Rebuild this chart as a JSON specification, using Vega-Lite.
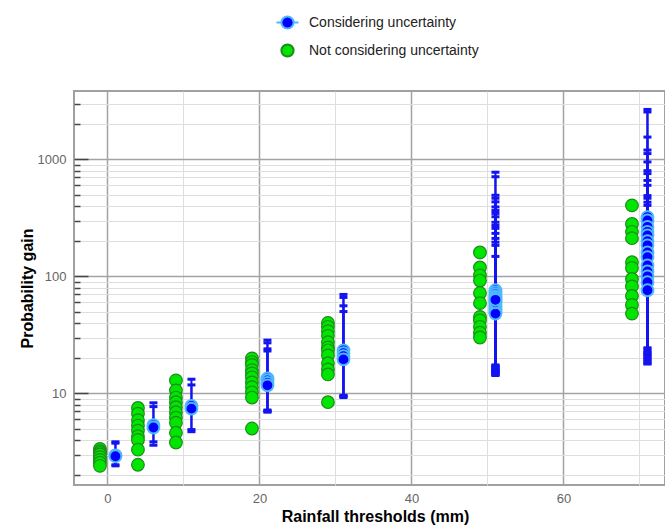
{
  "$schema": "https://vega.github.io/schema/vega-lite/v6.json",
  "width": 591,
  "height": 394,
  "autosize": {"type": "none"},
  "padding": {"left": 74, "top": 91, "right": 0, "bottom": 42},
  "config": {
    "font": "Liberation Sans",
    "view": {"stroke": "#a0a0a0", "strokeWidth": 2}
  },
  "datasets": {
    "notConsidering": [
      {"series": "Not considering uncertainty", "threshold": 0, "gain": 3.35},
      {"series": "Not considering uncertainty", "threshold": 0, "gain": 3.2},
      {"series": "Not considering uncertainty", "threshold": 0, "gain": 3.1},
      {"series": "Not considering uncertainty", "threshold": 0, "gain": 3.0},
      {"series": "Not considering uncertainty", "threshold": 0, "gain": 2.85},
      {"series": "Not considering uncertainty", "threshold": 0, "gain": 2.7},
      {"series": "Not considering uncertainty", "threshold": 0, "gain": 2.55},
      {"series": "Not considering uncertainty", "threshold": 0, "gain": 2.4},
      {"series": "Not considering uncertainty", "threshold": 5, "gain": 7.5},
      {"series": "Not considering uncertainty", "threshold": 5, "gain": 6.7},
      {"series": "Not considering uncertainty", "threshold": 5, "gain": 5.9},
      {"series": "Not considering uncertainty", "threshold": 5, "gain": 5.3},
      {"series": "Not considering uncertainty", "threshold": 5, "gain": 4.8},
      {"series": "Not considering uncertainty", "threshold": 5, "gain": 4.3},
      {"series": "Not considering uncertainty", "threshold": 5, "gain": 4.0},
      {"series": "Not considering uncertainty", "threshold": 5, "gain": 3.3},
      {"series": "Not considering uncertainty", "threshold": 5, "gain": 2.45},
      {"series": "Not considering uncertainty", "threshold": 10, "gain": 12.9},
      {"series": "Not considering uncertainty", "threshold": 10, "gain": 10.6},
      {"series": "Not considering uncertainty", "threshold": 10, "gain": 9.2},
      {"series": "Not considering uncertainty", "threshold": 10, "gain": 8.4},
      {"series": "Not considering uncertainty", "threshold": 10, "gain": 7.6},
      {"series": "Not considering uncertainty", "threshold": 10, "gain": 6.9},
      {"series": "Not considering uncertainty", "threshold": 10, "gain": 6.2},
      {"series": "Not considering uncertainty", "threshold": 10, "gain": 5.6},
      {"series": "Not considering uncertainty", "threshold": 10, "gain": 4.6},
      {"series": "Not considering uncertainty", "threshold": 10, "gain": 3.8},
      {"series": "Not considering uncertainty", "threshold": 20, "gain": 19.9},
      {"series": "Not considering uncertainty", "threshold": 20, "gain": 18.5},
      {"series": "Not considering uncertainty", "threshold": 20, "gain": 17.5},
      {"series": "Not considering uncertainty", "threshold": 20, "gain": 15.8},
      {"series": "Not considering uncertainty", "threshold": 20, "gain": 14.8},
      {"series": "Not considering uncertainty", "threshold": 20, "gain": 13.7},
      {"series": "Not considering uncertainty", "threshold": 20, "gain": 12.4},
      {"series": "Not considering uncertainty", "threshold": 20, "gain": 11.3},
      {"series": "Not considering uncertainty", "threshold": 20, "gain": 10.2},
      {"series": "Not considering uncertainty", "threshold": 20, "gain": 9.2},
      {"series": "Not considering uncertainty", "threshold": 20, "gain": 5.0},
      {"series": "Not considering uncertainty", "threshold": 30, "gain": 40},
      {"series": "Not considering uncertainty", "threshold": 30, "gain": 37},
      {"series": "Not considering uncertainty", "threshold": 30, "gain": 34},
      {"series": "Not considering uncertainty", "threshold": 30, "gain": 31},
      {"series": "Not considering uncertainty", "threshold": 30, "gain": 27.3},
      {"series": "Not considering uncertainty", "threshold": 30, "gain": 24.7},
      {"series": "Not considering uncertainty", "threshold": 30, "gain": 23.3},
      {"series": "Not considering uncertainty", "threshold": 30, "gain": 21.1},
      {"series": "Not considering uncertainty", "threshold": 30, "gain": 18.1},
      {"series": "Not considering uncertainty", "threshold": 30, "gain": 16},
      {"series": "Not considering uncertainty", "threshold": 30, "gain": 14.5},
      {"series": "Not considering uncertainty", "threshold": 30, "gain": 8.4},
      {"series": "Not considering uncertainty", "threshold": 50, "gain": 160},
      {"series": "Not considering uncertainty", "threshold": 50, "gain": 119},
      {"series": "Not considering uncertainty", "threshold": 50, "gain": 102},
      {"series": "Not considering uncertainty", "threshold": 50, "gain": 92},
      {"series": "Not considering uncertainty", "threshold": 50, "gain": 72},
      {"series": "Not considering uncertainty", "threshold": 50, "gain": 59},
      {"series": "Not considering uncertainty", "threshold": 50, "gain": 45},
      {"series": "Not considering uncertainty", "threshold": 50, "gain": 42},
      {"series": "Not considering uncertainty", "threshold": 50, "gain": 37},
      {"series": "Not considering uncertainty", "threshold": 50, "gain": 33},
      {"series": "Not considering uncertainty", "threshold": 50, "gain": 30},
      {"series": "Not considering uncertainty", "threshold": 70, "gain": 404},
      {"series": "Not considering uncertainty", "threshold": 70, "gain": 280},
      {"series": "Not considering uncertainty", "threshold": 70, "gain": 240},
      {"series": "Not considering uncertainty", "threshold": 70, "gain": 212},
      {"series": "Not considering uncertainty", "threshold": 70, "gain": 132},
      {"series": "Not considering uncertainty", "threshold": 70, "gain": 118},
      {"series": "Not considering uncertainty", "threshold": 70, "gain": 95},
      {"series": "Not considering uncertainty", "threshold": 70, "gain": 82},
      {"series": "Not considering uncertainty", "threshold": 70, "gain": 68},
      {"series": "Not considering uncertainty", "threshold": 70, "gain": 57},
      {"series": "Not considering uncertainty", "threshold": 70, "gain": 48}
    ],
    "considering": [
      {"series": "Considering uncertainty", "threshold": 0, "gain": 2.95, "lo": 2.4, "hi": 3.85},
      {"series": "Considering uncertainty", "threshold": 0, "gain": 2.9, "lo": 2.45, "hi": 3.75},
      {"series": "Considering uncertainty", "threshold": 5, "gain": 5.35, "lo": 3.85, "hi": 8.3},
      {"series": "Considering uncertainty", "threshold": 5, "gain": 5.1, "lo": 3.6, "hi": 7.7},
      {"series": "Considering uncertainty", "threshold": 10, "gain": 7.8, "lo": 4.9, "hi": 13.2},
      {"series": "Considering uncertainty", "threshold": 10, "gain": 7.4, "lo": 4.7, "hi": 11.8},
      {"series": "Considering uncertainty", "threshold": 20, "gain": 13.4, "lo": 7.2, "hi": 28.5},
      {"series": "Considering uncertainty", "threshold": 20, "gain": 12.9, "lo": 7.0, "hi": 27},
      {"series": "Considering uncertainty", "threshold": 20, "gain": 12.3, "lo": 6.9, "hi": 24},
      {"series": "Considering uncertainty", "threshold": 20, "gain": 11.7, "lo": 7.1, "hi": 23},
      {"series": "Considering uncertainty", "threshold": 30, "gain": 23.3, "lo": 9.6, "hi": 70},
      {"series": "Considering uncertainty", "threshold": 30, "gain": 22, "lo": 9.4, "hi": 66},
      {"series": "Considering uncertainty", "threshold": 30, "gain": 20.8, "lo": 9.2, "hi": 56},
      {"series": "Considering uncertainty", "threshold": 30, "gain": 19.5, "lo": 9.5, "hi": 50},
      {"series": "Considering uncertainty", "threshold": 50, "gain": 76, "lo": 15.5, "hi": 776},
      {"series": "Considering uncertainty", "threshold": 50, "gain": 73, "lo": 16, "hi": 710},
      {"series": "Considering uncertainty", "threshold": 50, "gain": 70, "lo": 14.5, "hi": 493},
      {"series": "Considering uncertainty", "threshold": 50, "gain": 67, "lo": 17, "hi": 465},
      {"series": "Considering uncertainty", "threshold": 50, "gain": 66, "lo": 15, "hi": 433},
      {"series": "Considering uncertainty", "threshold": 50, "gain": 64, "lo": 16.5, "hi": 392},
      {"series": "Considering uncertainty", "threshold": 50, "gain": 61, "lo": 14.2, "hi": 365},
      {"series": "Considering uncertainty", "threshold": 50, "gain": 58, "lo": 15.8, "hi": 345},
      {"series": "Considering uncertainty", "threshold": 50, "gain": 56, "lo": 17.5, "hi": 323},
      {"series": "Considering uncertainty", "threshold": 50, "gain": 55, "lo": 15.2, "hi": 290},
      {"series": "Considering uncertainty", "threshold": 50, "gain": 53, "lo": 16.2, "hi": 272},
      {"series": "Considering uncertainty", "threshold": 50, "gain": 52, "lo": 14.8, "hi": 257},
      {"series": "Considering uncertainty", "threshold": 50, "gain": 50, "lo": 15.6, "hi": 233},
      {"series": "Considering uncertainty", "threshold": 50, "gain": 49, "lo": 17.2, "hi": 211},
      {"series": "Considering uncertainty", "threshold": 50, "gain": 48, "lo": 14.4, "hi": 196},
      {"series": "Considering uncertainty", "threshold": 50, "gain": 60, "lo": 16.8, "hi": 184},
      {"series": "Considering uncertainty", "threshold": 50, "gain": 63, "lo": 15.4, "hi": 148},
      {"series": "Considering uncertainty", "threshold": 70, "gain": 321, "lo": 18, "hi": 2670},
      {"series": "Considering uncertainty", "threshold": 70, "gain": 300, "lo": 19, "hi": 2540},
      {"series": "Considering uncertainty", "threshold": 70, "gain": 265, "lo": 20, "hi": 1550},
      {"series": "Considering uncertainty", "threshold": 70, "gain": 240, "lo": 21.5, "hi": 1200},
      {"series": "Considering uncertainty", "threshold": 70, "gain": 224, "lo": 22.5, "hi": 1120},
      {"series": "Considering uncertainty", "threshold": 70, "gain": 200, "lo": 24, "hi": 950},
      {"series": "Considering uncertainty", "threshold": 70, "gain": 184, "lo": 18.5, "hi": 800},
      {"series": "Considering uncertainty", "threshold": 70, "gain": 160, "lo": 19.5, "hi": 755},
      {"series": "Considering uncertainty", "threshold": 70, "gain": 146, "lo": 20.5, "hi": 660},
      {"series": "Considering uncertainty", "threshold": 70, "gain": 124, "lo": 23, "hi": 600},
      {"series": "Considering uncertainty", "threshold": 70, "gain": 110, "lo": 24.5, "hi": 490},
      {"series": "Considering uncertainty", "threshold": 70, "gain": 100, "lo": 17.8, "hi": 465},
      {"series": "Considering uncertainty", "threshold": 70, "gain": 89, "lo": 21, "hi": 430},
      {"series": "Considering uncertainty", "threshold": 70, "gain": 76, "lo": 22, "hi": 404}
    ]
  },
  "layer": [
    {
      "data": {"name": "notConsidering"},
      "mark": {"type": "point", "filled": true, "size": 160, "strokeWidth": 1.2, "opacity": 1, "xOffset": -7.5},
      "encoding": {
        "x": {
          "field": "threshold", "type": "quantitative",
          "scale": {"domain": [-4.4, 73.36], "nice": false, "zero": false},
          "axis": {
            "title": "Rainfall thresholds (mm)",
            "values": [0, 10, 20, 30, 40, 50, 60, 70],
            "labelExpr": "datum.value % 20 === 0 ? datum.label : ''",
            "ticks": false, "domain": false, "grid": true,
            "gridColor": {"condition": {"test": "datum.value % 20 === 0", "value": "#a3a3a3"}, "value": "#dedede"},
            "gridWidth": {"condition": {"test": "datum.value % 20 === 0", "value": 1.5}, "value": 1},
            "labelColor": "#666", "labelFontSize": 13, "labelPadding": 7, "labelFlush": false,
            "titleFontSize": 16, "titleFontWeight": "bold", "titleColor": "#000", "titlePadding": 3, "titleX": 301
          }
        },
        "y": {
          "field": "gain", "type": "quantitative",
          "scale": {"type": "log", "domain": [1.646, 3838], "nice": false},
          "axis": {
            "title": "Probability gain",
            "values": [2, 3, 4, 5, 6, 7, 8, 9, 10, 20, 30, 40, 50, 60, 70, 80, 90, 100, 200, 300, 400, 500, 600, 700, 800, 900, 1000, 2000, 3000],
            "format": "d",
            "labelExpr": "(datum.value === 10 || datum.value === 100 || datum.value === 1000) ? datum.label : ''",
            "grid": true, "domain": false,
            "gridColor": {"condition": {"test": "datum.value === 10 || datum.value === 100 || datum.value === 1000", "value": "#a3a3a3"}, "value": "#dedede"},
            "gridWidth": {"condition": {"test": "datum.value === 10 || datum.value === 100 || datum.value === 1000", "value": 1.5}, "value": 1},
            "tickSize": {"condition": {"test": "datum.value === 10 || datum.value === 100 || datum.value === 1000", "value": -14}, "value": -6},
            "tickColor": "#444", "tickWidth": 1.5,
            "labelColor": "#666", "labelFontSize": 13, "labelPadding": 22, "labelOverlap": false, "labelFlush": false,
            "titleFontSize": 16, "titleFontWeight": "bold", "titleColor": "#000", "titlePadding": 2
          }
        },
        "fill": {
          "field": "series", "type": "nominal",
          "scale": {"domain": ["Considering uncertainty", "Not considering uncertainty"], "range": ["#0000ff", "#00e600"]},
          "legend": {
            "orient": "none", "legendX": 206, "legendY": -76, "title": null, "direction": "vertical",
            "symbolSize": 150, "symbolStrokeWidth": 2, "labelFontSize": 14, "labelColor": "#222", "rowPadding": 7, "labelOffset": 14, "labelLimit": 400
          }
        },
        "stroke": {
          "field": "series", "type": "nominal",
          "scale": {"domain": ["Considering uncertainty", "Not considering uncertainty"], "range": ["#4fb8ff", "#1a8c1a"]},
          "legend": {
            "orient": "none", "legendX": 206, "legendY": -76, "title": null, "direction": "vertical",
            "symbolSize": 150, "symbolStrokeWidth": 2, "labelFontSize": 14, "labelColor": "#222", "rowPadding": 7, "labelOffset": 14, "labelLimit": 400
          }
        },
        "shape": {
          "field": "series", "type": "nominal",
          "scale": {"domain": ["Considering uncertainty", "Not considering uncertainty"], "range": ["M -1.8 0 L -1 0 M 1 0 L 1.8 0 M 1 0 A 1 1 0 1 1 -1 0 A 1 1 0 1 1 1 0 Z", "circle"]},
          "legend": {
            "orient": "none", "legendX": 206, "legendY": -76, "title": null, "direction": "vertical",
            "symbolSize": 150, "symbolStrokeWidth": 2, "labelFontSize": 14, "labelColor": "#222", "rowPadding": 7, "labelOffset": 14, "labelLimit": 400
          }
        }
      }
    },
    {
      "data": {"name": "considering"},
      "mark": {"type": "rule", "color": "#1414f0", "strokeWidth": 2, "xOffset": 8},
      "encoding": {
        "x": {"field": "threshold", "type": "quantitative"},
        "y": {"field": "lo", "type": "quantitative"},
        "y2": {"field": "hi"}
      }
    },
    {
      "data": {"name": "considering"},
      "mark": {"type": "point", "shape": "M -1 0 L 1 0", "filled": false, "size": 64, "stroke": "#1414f0", "strokeWidth": 3, "opacity": 1, "xOffset": 8},
      "encoding": {
        "x": {"field": "threshold", "type": "quantitative"},
        "y": {"field": "hi", "type": "quantitative"}
      }
    },
    {
      "data": {"name": "considering"},
      "mark": {"type": "point", "shape": "M -1 0 L 1 0", "filled": false, "size": 64, "stroke": "#1414f0", "strokeWidth": 3, "opacity": 1, "xOffset": 8},
      "encoding": {
        "x": {"field": "threshold", "type": "quantitative"},
        "y": {"field": "lo", "type": "quantitative"}
      }
    },
    {
      "data": {"name": "considering"},
      "mark": {"type": "point", "shape": "circle", "filled": true, "size": 140, "strokeWidth": 2, "opacity": 1, "xOffset": 8},
      "encoding": {
        "x": {"field": "threshold", "type": "quantitative"},
        "y": {"field": "gain", "type": "quantitative"},
        "fill": {"field": "series", "type": "nominal"},
        "stroke": {"field": "series", "type": "nominal"}
      }
    }
  ]
}
